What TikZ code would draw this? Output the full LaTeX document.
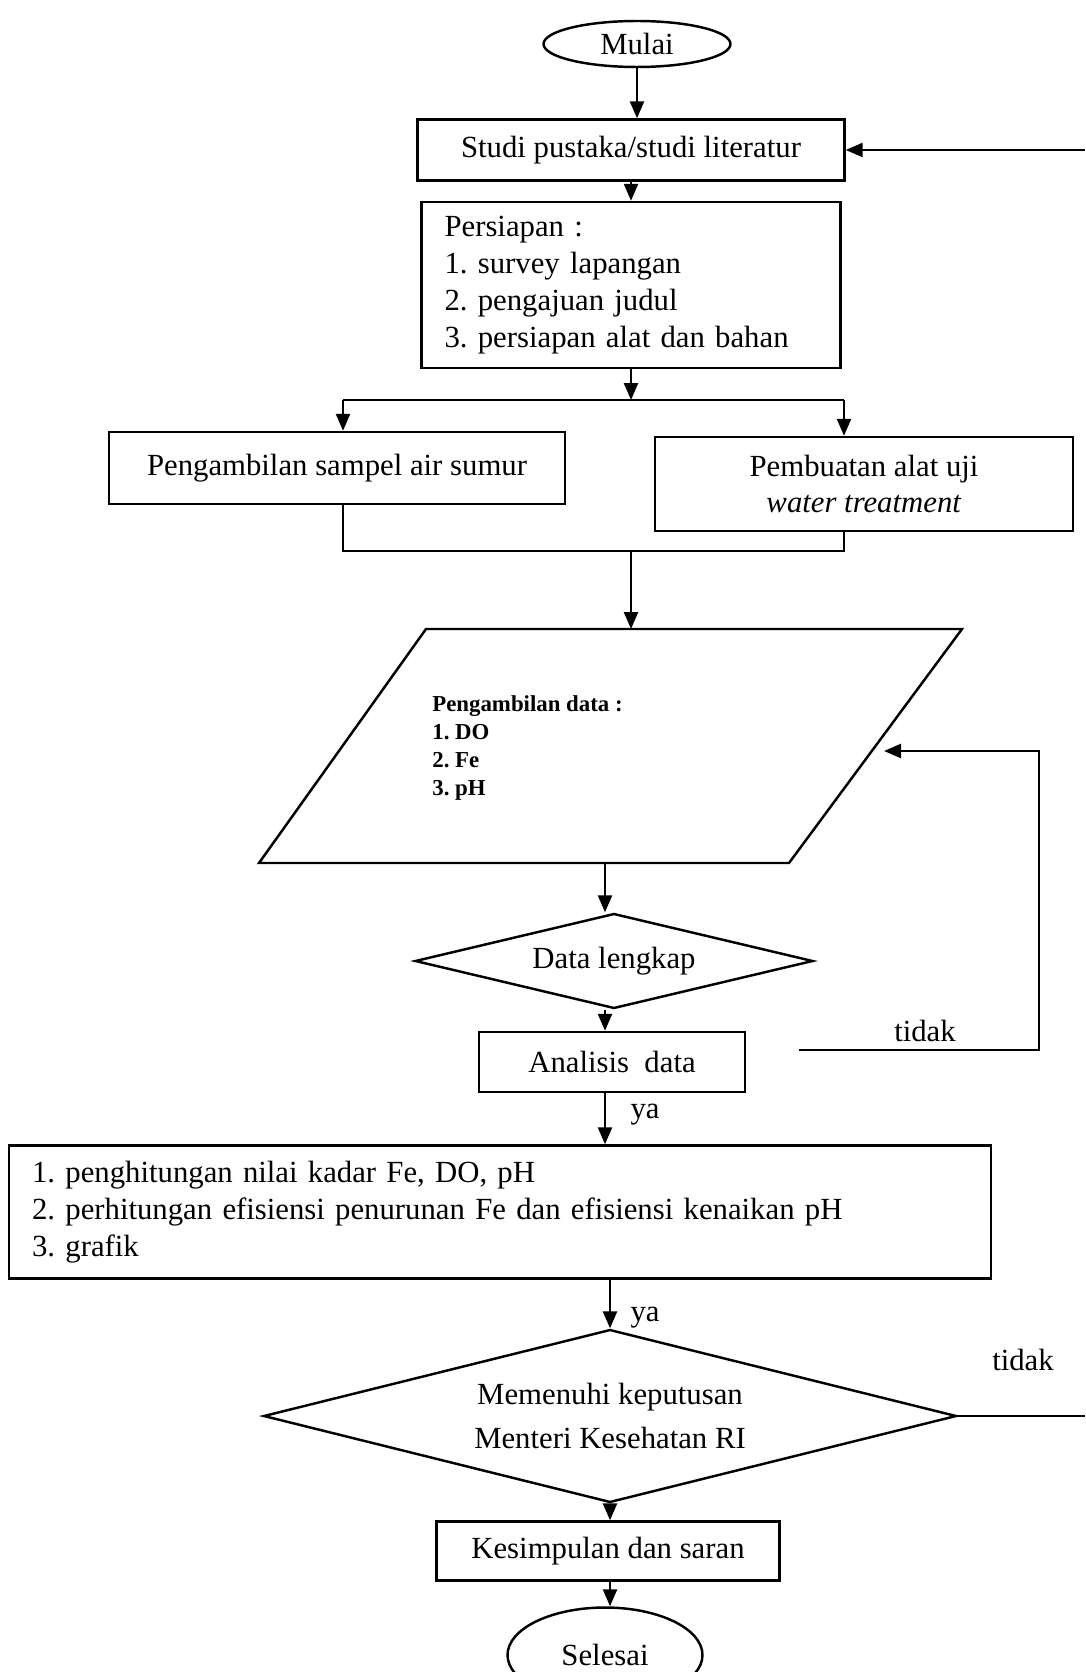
\documentclass[tikz,border=0pt]{standalone}
\usepackage{fontspec}
\setmainfont{Liberation Serif}
\usetikzlibrary{shapes.geometric, positioning, arrows.meta, calc}
\frenchspacing

\begin{document}
\begin{tikzpicture}[
          x=0.02cm, y=-0.02cm,
          txt/.style={font=\fontsize{17.5}{21}\selectfont},
          box/.style={rectangle, draw, line width=1.4pt, txt},
          term/.style={ellipse, draw, line width=1.4pt, inner sep=0pt, txt},
          decide/.style={diamond, draw, line width=1.4pt, aspect=4,
                         inner sep=0pt, align=center, txt},
          line/.style={line width=1.4pt},
          arr/.style={-{Triangle[length=3.4mm, width=2.8mm]}, line width=1.4pt}
        ]
        \useasboundingbox (0,0) rectangle (1085,1672);

        % Start and preparation
        \node[term, minimum width=3.74cm, minimum height=0.92cm] (mulai) at (637,44) {Mulai};
        \node[box, minimum width=8.54cm, minimum height=1.22cm] (studi) at (631,150)
              {Studi pustaka/studi literatur};
        \node[box, align=left, text width=7.46cm, inner xsep=0.46cm,
              minimum height=3.32cm] (siap) at (631,285)
              {Persiapan :\\1. survey lapangan\\2. pengajuan judul\\3. persiapan alat dan bahan};
        \draw[arr] (mulai.south) -- (mulai.south |- studi.north);
        \draw[arr] (studi.south) -- (siap.north);

        % Two branches
        \node[box, minimum width=9.12cm, minimum height=1.44cm] (sampel) at (337,468)
              {Pengambilan sampel air sumur};
        \node[box, align=center, minimum width=8.36cm, minimum height=1.88cm] (alat) at (864,484)
              {Pembuatan alat uji\\\textit{water treatment}};
        \coordinate (bagi) at (631,400);
        \coordinate (bagiL) at (343,400);
        \coordinate (bagiR) at (844,400);
        \draw[arr] (siap.south) -- (bagi);
        \draw[line] (bagiL) -- (bagiR);
        \draw[arr] (bagiL) -- (bagiL |- sampel.north);
        \draw[arr] (bagiR) -- (bagiR |- alat.north);
        \coordinate (gabung) at (631,551);
        \draw[line] (bagiL |- sampel.south) -- (bagiL |- gabung)
                    -- (bagiR |- gabung) -- (bagiR |- alat.south);

        % Data collection
        \draw[line] (426,629) -- (962,629) -- (789,863) -- (259,863) -- cycle;
        \coordinate (ambilT) at (631,629);
        \coordinate (ambilB) at (605,863);
        \coordinate (ambilR) at (884,751);
        \node[anchor=west, align=left, inner sep=0pt,
              font=\fontsize{13}{15.8}\selectfont\bfseries] (ambil) at (432,748)
              {Pengambilan data :\\1. DO\\2. Fe\\3. pH};
        \draw[arr] (gabung) -- (ambilT);

        \node[decide, minimum width=7.96cm, minimum height=1.9cm] (cek) at (614,961) {Data lengkap};
        \draw[arr] (ambilB) -- (ambilB |- cek.north);
        \node[box, minimum width=5.32cm, minimum height=1.2cm] (analisis) at (612,1062)
              {Analisis~~data};
        \draw[arr] (ambilB |- cek.south) -- (ambilB |- analisis.north);

        % Loop back when data incomplete
        \coordinate (tdkA) at (799,1050);
        \coordinate (tdkB) at (1039,1050);
        \coordinate (tdkC) at (1039,751);
        \draw[arr] (tdkA) -- (tdkB) -- (tdkC) -- (ambilR);
        \node[txt] (tidak1) at (925,1031) {tidak};

        % Calculation
        \node[box, align=left, text width=18.72cm, inner xsep=0.46cm,
              minimum height=2.66cm] (hasil) at (500,1212)
              {1. penghitungan nilai kadar Fe, DO, pH\\
               2. perhitungan efisiensi penurunan Fe dan efisiensi kenaikan pH\\
               3. grafik};
        \draw[arr] (ambilB |- analisis.south) -- (ambilB |- hasil.north);
        \node[txt] (ya1) at (645,1115) {ya};

        % Decision against the standard
        \node[decide, minimum width=13.86cm, minimum height=3.46cm] (putus) at (610,1416)
              {Memenuhi keputusan\\[0.15cm]Menteri Kesehatan RI};
        \draw[arr] (hasil.south -| putus.north) -- (putus.north);
        \node[txt] (ya2) at (645,1318) {ya};
        \coordinate (tepiB) at (1085,1416);
        \coordinate (tepiA) at (1085,150);
        \draw[line] (putus.east) -- (tepiB);
        \draw[arr] (tepiA) -- (studi.east);
        \node[txt] (tidak2) at (1023,1360) {tidak};

        % End
        \node[box, minimum width=6.86cm, minimum height=1.18cm] (simpul) at (608,1551)
              {Kesimpulan dan saran};
        \draw[arr] (putus.south) -- (putus.south |- simpul.north);
        \node[term, minimum width=3.9cm, minimum height=1.9cm] (selesai) at (605,1655) {Selesai};
        \draw[arr] (putus.south |- simpul.south) -- (putus.south |- selesai.north);
      \end{tikzpicture}
\end{document}
